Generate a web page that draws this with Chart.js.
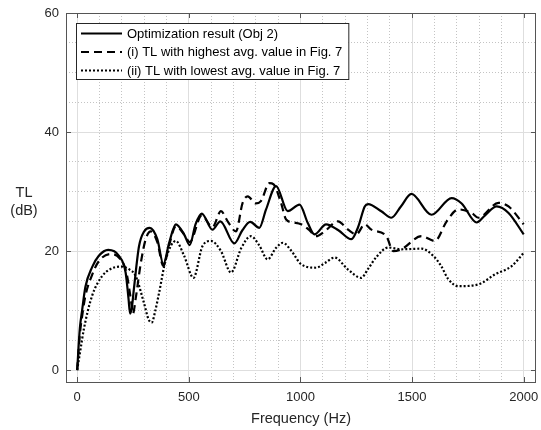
<!DOCTYPE html>
<html>
<head>
<meta charset="utf-8">
<script src="https://cdn.jsdelivr.net/npm/chart.js@4.4.1/dist/chart.umd.min.js"></script>
<style>
  html, body { margin: 0; padding: 0; background: #fff; }
  canvas { display: block; }
</style>
</head>
<body>
<canvas id="chart" width="541" height="430"></canvas>
<script>
// data
var objFreq = [0, 12, 22, 37, 67, 97, 139, 187, 217, 230, 237, 245, 254, 277, 300, 325, 359, 386, 412, 442,
  479, 504, 530, 558, 606, 641, 704, 740, 775, 816, 846, 891, 943, 996, 1033, 1063, 1115, 1170, 1228, 1258,
  1288, 1303, 1362, 1407, 1450, 1497, 1587, 1677, 1722, 1789, 1827, 1879, 1932, 2000];
var objTL = [0, 7, 10, 14, 17.3, 19.2, 20.2, 19.2, 16.4, 12, 9.5, 10.5, 13.6, 20.8, 23.3, 23.9, 22, 17.8, 21.4, 24.5,
  22.8, 21, 24.5, 26.3, 23.6, 25, 21.3, 23.5, 24.9, 23.9, 27, 30.9, 26.7, 27.8, 24.7, 22.8, 24.5, 23.5, 22, 24,
  27.5, 27.9, 26.7, 25.6, 27.5, 29.6, 26.1, 28.9, 28, 24.8, 26, 27.5, 26.4, 22.8];

var hiFreq = [0, 12, 22, 37, 67, 97, 150, 190, 220, 240, 250, 262, 285, 307, 330, 359, 386, 412, 442, 479,
  504, 558, 606, 644, 674, 711, 741, 764, 800, 823, 861, 880, 913, 936, 970, 1003, 1040, 1070, 1108, 1168,
  1213, 1250, 1288, 1318, 1385, 1415, 1452, 1542, 1602, 1655, 1707, 1767, 1797, 1887, 1932, 2000];
var hiTL = [0, 6, 9, 12.5, 16, 18.3, 19.5, 18.8, 16.5, 12, 9.5, 12, 18, 22, 23.3, 21.5, 17.5, 21, 24.2, 22.8,
  21.5, 26, 24, 26.7, 25, 23.3, 28.1, 29.2, 28, 28.4, 31.4, 31.2, 28.1, 25.3, 24.8, 24.5, 23.5, 22.5, 23.3, 25,
  23.6, 22.8, 24.5, 23.6, 22.5, 20, 20.3, 22.5, 21.7, 25, 27, 26.4, 25.6, 28.1, 27.5, 24.5];

var loFreq = [0, 15, 30, 67, 112, 150, 195, 230, 262, 299, 320, 334, 350, 367, 397, 442, 479, 521, 561, 599,
  644, 689, 735, 778, 815, 853, 890, 921, 960, 1003, 1070, 1110, 1153, 1213, 1272, 1303, 1340, 1393, 1452, 1542,
  1595, 1630, 1662, 1707, 1797, 1872, 1947, 2000];
var loTL = [0, 3.5, 6.9, 12.5, 15.8, 17, 17.4, 17, 15.8, 11.3, 8.5, 8, 10, 13, 18.6, 21.7, 19.2, 15.5, 20.8, 21.7,
  20, 16.4, 20.5, 22.5, 21, 18.6, 20.5, 21.4, 20, 17.8, 17.2, 18, 18.9, 16.9, 15.5, 17, 19, 20.6, 20.3, 20.4,
  19.2, 17.5, 15.3, 14.1, 14.4, 16.1, 17.5, 19.7];

var seriesNames = ["Optimization result (Obj 2)", "(i) TL with highest avg. value in Fig. 7", "(ii) TL with lowest avg. value in Fig. 7"];
var xTicks = [0, 500, 1000, 1500, 2000];
var yTicks = [0, 20, 40, 60];
var xMinorTicks = [0, 100, 200, 300, 400, 500, 600, 700, 800, 900, 1000, 1100, 1200, 1300, 1400, 1500, 1600, 1700, 1800, 1900, 2000];
var yMinorTicks = [0, 5, 10, 15, 20, 25, 30, 35, 40, 45, 50, 55, 60];

var FONT = '"Liberation Sans", Arial, Helvetica, sans-serif';
var AXIS = '#555555';
var TEXT = '#262626';

function pts(xs, ys) {
  var out = [];
  for (var i = 0; i < xs.length; i++) out.push({x: xs[i], y: ys[i]});
  return out;
}
function plainLabel(v) { return String(v); }

var dashes = [[], [8, 5], [2, 2]];

// box, inward ticks, axis titles and legend like the matlab figure
var matlabBits = {
  id: 'matlabBits',
  afterDatasetsDraw: function(chart) {
    var ctx = chart.ctx, a = chart.chartArea;
    var xs = chart.scales.x, ys = chart.scales.y;
    ctx.save();
    ctx.strokeStyle = AXIS;
    ctx.lineWidth = 1;
    ctx.setLineDash([]);
    ctx.beginPath();
    xTicks.forEach(function(v) {
      var px = Math.round(xs.getPixelForValue(v)) + 0.5;
      ctx.moveTo(px, a.bottom); ctx.lineTo(px, a.bottom - 5);
      ctx.moveTo(px, a.top); ctx.lineTo(px, a.top + 5);
    });
    yTicks.forEach(function(v) {
      var py = Math.round(ys.getPixelForValue(v)) + 0.5;
      ctx.moveTo(a.left, py); ctx.lineTo(a.left + 5, py);
      ctx.moveTo(a.right, py); ctx.lineTo(a.right - 5, py);
    });
    ctx.stroke();
    ctx.strokeRect(Math.round(a.left) + 0.5, Math.round(a.top) + 0.5,
      Math.round(a.right - a.left) - 1, Math.round(a.bottom - a.top));

    // axis titles
    ctx.fillStyle = TEXT;
    ctx.font = '14.5px ' + FONT;
    ctx.textAlign = 'center';
    ctx.textBaseline = 'middle';
    ctx.fillText('TL', 24, 193);
    ctx.fillText('(dB)', 24, 211);
    ctx.fillText('Frequency (Hz)', (a.left + a.right) / 2, 419);

    // legend
    ctx.font = '13px ' + FONT;
    var w = 0;
    seriesNames.forEach(function(n) { w = Math.max(w, ctx.measureText(n).width); });
    var lx = 76, ly = 23, lw = 51 + w + 6, lh = 56;
    ctx.fillStyle = '#fff';
    ctx.fillRect(lx, ly, lw, lh);
    ctx.strokeStyle = '#262626';
    ctx.strokeRect(lx + 0.5, ly + 0.5, lw, lh);
    var rows = [33.5, 52, 70.5];
    seriesNames.forEach(function(n, i) {
      ctx.beginPath();
      ctx.setLineDash(dashes[i]);
      ctx.lineWidth = 2;
      ctx.strokeStyle = '#000';
      ctx.moveTo(lx + 5, rows[i]); ctx.lineTo(lx + 46, rows[i]);
      ctx.stroke();
      ctx.setLineDash([]);
      ctx.fillStyle = '#000';
      ctx.textAlign = 'left';
      ctx.fillText(n, lx + 51, rows[i] + 0.5);
    });
    ctx.restore();
  }
};

var ctx = document.getElementById('chart');
var chart = new Chart(ctx, {
  type: 'line',
  data: {
    datasets: [
      { label: seriesNames[0], data: pts(objFreq, objTL), borderDash: dashes[0] },
      { label: seriesNames[1], data: pts(hiFreq, hiTL), borderDash: dashes[1] },
      { label: seriesNames[2], data: pts(loFreq, loTL), borderDash: dashes[2] }
    ]
  },
  options: {
    responsive: false,
    devicePixelRatio: 1,
    animation: false,
    layout: { padding: { left: 0, top: 13, right: 5, bottom: 0 } },
    elements: {
      point: { radius: 0 },
      line: { borderColor: '#000', borderWidth: 2.2, cubicInterpolationMode: 'monotone', fill: false }
    },
    plugins: { legend: { display: false }, tooltip: { enabled: false } },
    scales: {
      x: {
        type: 'linear', position: 'bottom', min: -50, max: 2055,
        afterBuildTicks: function(s) { s.ticks = xTicks.map(function(v) { return {value: v}; }); },
        afterFit: function(s) { s.height = 48; s.paddingLeft = 0; s.paddingRight = 0; },
        ticks: { font: { size: 13, family: FONT }, color: TEXT, padding: 8, maxRotation: 0, autoSkip: false, callback: plainLabel },
        grid: { color: '#dedede', drawTicks: false },
        border: { display: false }
      },
      xMinor: {
        type: 'linear', position: 'bottom', min: -50, max: 2055,
        afterBuildTicks: function(s) { s.ticks = xMinorTicks.map(function(v) { return {value: v}; }); },
        afterFit: function(s) { s.height = 0; s.paddingLeft = 0; s.paddingRight = 0; },
        ticks: { display: false },
        grid: { drawTicks: false, color: function(c) { return c.tick && c.tick.value % 500 === 0 ? 'rgba(0,0,0,0)' : '#c4c4c4'; } },
        border: { display: false, dash: [1, 2] }
      },
      y: {
        type: 'linear', position: 'left', min: -2, max: 60,
        afterBuildTicks: function(s) { s.ticks = yTicks.map(function(v) { return {value: v}; }); },
        afterFit: function(s) { s.width = 66; s.paddingTop = 0; s.paddingBottom = 0; },
        ticks: { font: { size: 13, family: FONT }, color: TEXT, padding: 7, callback: plainLabel },
        grid: { color: '#dedede', drawTicks: false },
        border: { display: false }
      },
      yMinor: {
        type: 'linear', position: 'left', min: -2, max: 60,
        afterBuildTicks: function(s) { s.ticks = yMinorTicks.map(function(v) { return {value: v}; }); },
        afterFit: function(s) { s.width = 0; s.paddingTop = 0; s.paddingBottom = 0; },
        ticks: { display: false },
        grid: { drawTicks: false, color: function(c) { return c.tick && c.tick.value % 20 === 0 ? 'rgba(0,0,0,0)' : '#c4c4c4'; } },
        border: { display: false, dash: [1, 2] }
      }
    }
  },
  plugins: [matlabBits]
});
</script>
</body>
</html>
